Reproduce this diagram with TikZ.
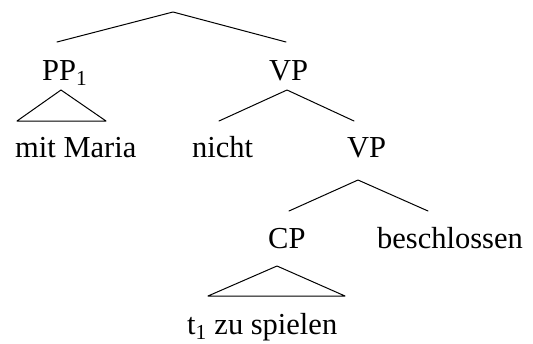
\documentclass[tikz,border=0pt]{standalone}
\usepackage{fontspec}
\setmainfont{Liberation Serif}
\begin{document}
\begin{tikzpicture}[x=1pt,y=-1pt,
  word/.style={inner sep=0pt,anchor=base west,font=\fontsize{30.5}{36}\selectfont},
  branch/.style={line width=1pt,line cap=round,line join=round}]
\useasboundingbox (0,0) rectangle (533,343);

% labels and words
\node[word] (pp)   at (42,80)  {PP\textsubscript{1}};
\node[word] (vp1)  at (269,80) {VP};
\node[word] (mit)  at (15,157) {mit Maria};
\node[word] (nicht) at (192,157) {nicht};
\node[word] (vp2)  at (347,157) {VP};
\node[word] (cp)   at (268,248) {CP};
\node[word] (besch) at (377,248) {beschlossen};
\node[word] (spiel) at (187,334) {t\textsubscript{1} zu spielen};

% branch points
\coordinate (root) at (173,12);
\coordinate (rootL) at (57,42);
\coordinate (rootR) at (286,42);
\coordinate (vpa) at (287,90);
\coordinate (vpaL) at (219,121);
\coordinate (vpaR) at (354,121);
\coordinate (vpb) at (358,180);
\coordinate (vpbL) at (289,211);
\coordinate (vpbR) at (428,211);

% roofs over phrases
\coordinate (ppTop) at (61,90);
\coordinate (ppL) at (17,121);
\coordinate (ppR) at (106,121);
\coordinate (cpTop) at (277,266);
\coordinate (cpL) at (208,296);
\coordinate (cpR) at (345,296);

\draw[branch] (rootL) -- (root) -- (rootR);
\draw[branch] (vpaL) -- (vpa) -- (vpaR);
\draw[branch] (vpbL) -- (vpb) -- (vpbR);
\draw[branch] (ppTop) -- (ppL) -- (ppR) -- cycle;
\draw[branch] (cpTop) -- (cpL) -- (cpR) -- cycle;
\end{tikzpicture}
\end{document}
